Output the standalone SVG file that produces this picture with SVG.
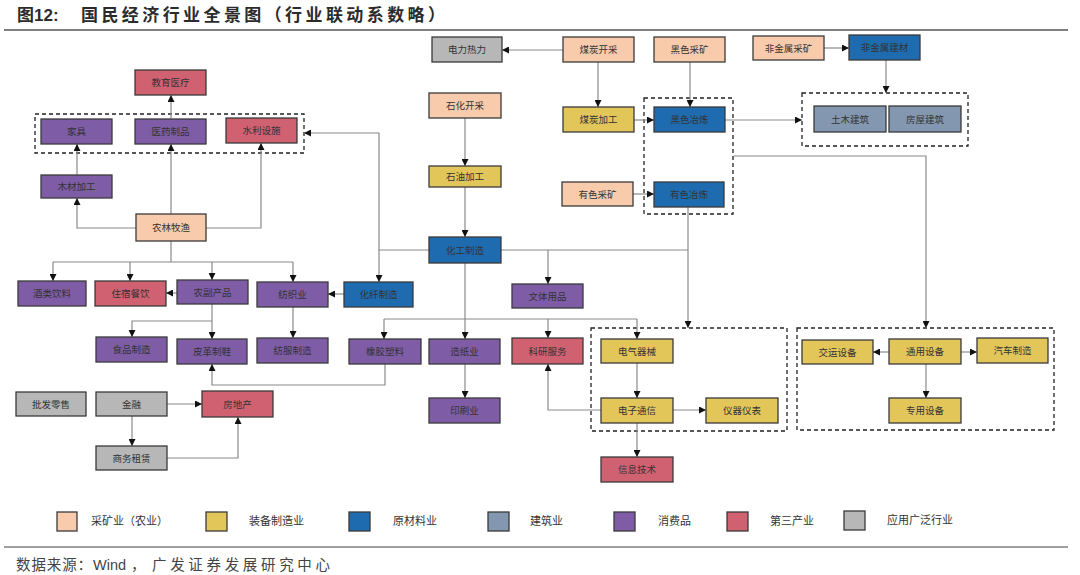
<svg xmlns="http://www.w3.org/2000/svg" width="1080" height="575" viewBox="0 0 1080 575">
<style>
.n{stroke:#3a3a3a;stroke-width:1.3}
.m{fill:#F8CBAD}.e{fill:#E3C65A}.r{fill:#1F6BAF}.c{fill:#8497B0}.p{fill:#7E5CA6}.t{fill:#D06171}.g{fill:#B7B7B7}
.l{font-family:"Liberation Sans","Noto Sans CJK SC",sans-serif;font-size:9.5px;fill:#333;text-anchor:middle;dominant-baseline:central}
.k{fill:none;stroke:#8a8a8a;stroke-width:1.2}
.a{marker-end:url(#ah)}
.d{fill:none;stroke:#222;stroke-width:1.3;stroke-dasharray:4 3}
.lg{font-family:"Liberation Sans","Noto Sans CJK SC",sans-serif;font-size:11px;fill:#333;dominant-baseline:central}
</style>
<defs>
<marker id="ah" viewBox="0 0 10 10" refX="10" refY="5" markerWidth="7" markerHeight="7" markerUnits="userSpaceOnUse" orient="auto">
<path d="M0,0L10,5L0,10z" fill="#111"/>
</marker>
</defs>
<rect width="1080" height="575" fill="#fff"/>
<text x="17" y="21" font-family="Liberation Sans,'Noto Sans CJK SC',sans-serif" font-size="17" font-weight="bold" fill="#2b2b2b">图12:</text>
<text x="81" y="21" font-family="'Noto Sans CJK SC',sans-serif" font-size="17" font-weight="bold" fill="#2b2b2b" textLength="364" lengthAdjust="spacing">国民经济行业全景图（行业联动系数略）</text>
<line x1="4" y1="30" x2="1068" y2="30" stroke="#7f7f7f" stroke-width="2"/>

<g id="groups">
<rect class="d" x="35" y="114" width="269" height="39"/>
<rect class="d" x="644" y="98" width="89" height="116" stroke="#5a7896"/>
<rect class="d" x="802" y="93" width="166" height="53"/>
<rect class="d" x="591" y="328" width="196" height="103"/>
<rect class="d" x="797" y="328" width="257" height="102"/>
</g>

<g id="connectors">
<path class="k a" d="M563,50H502"/>
<path class="k a" d="M598,62V107"/>
<path class="k a" d="M690,62V107"/>
<path class="k a" d="M824,48H849"/>
<path class="k a" d="M886,60V93"/>
<path class="k a" d="M634,120H654"/>
<path class="k a" d="M725,120H802"/>
<path class="k a" d="M633,194H654"/>
<path class="k a" d="M688,207V328"/>
<path class="k a" d="M733,156H926V328"/>
<path class="k a" d="M465,118V166"/>
<path class="k a" d="M465,187V237"/>
<path class="k a" d="M429,250H379V133H304"/>
<path class="k a" d="M379,250V282"/>
<path class="k a" d="M501,250H548V284"/>
<path class="k" d="M548,250H688"/>
<path class="k a" d="M465,263V339"/>
<path class="k a" d="M384,319V339"/>
<path class="k" d="M384,319H637"/>
<path class="k a" d="M548,319V338"/>
<path class="k a" d="M637,319V339"/>
<path class="k a" d="M465,364V398"/>
<path class="k a" d="M385,364V385H212V364"/>
<path class="k a" d="M601,410H548V364"/>
<path class="k a" d="M637,363V398"/>
<path class="k a" d="M673,410H706"/>
<path class="k a" d="M637,423V457"/>
<path class="k a" d="M889,352H873"/>
<path class="k a" d="M961,352H977"/>
<path class="k a" d="M926,364V398"/>
<path class="k a" d="M136,228H77V198"/>
<path class="k a" d="M77,175V144"/>
<path class="k a" d="M171,214V144"/>
<path class="k a" d="M206,228H261V143"/>
<path class="k a" d="M171,119V95"/>
<path class="k" d="M171,241V262M53,262H293"/>
<path class="k a" d="M53,262V281"/>
<path class="k a" d="M130,262V281"/>
<path class="k a" d="M212,262V280"/>
<path class="k a" d="M293,262V282"/>
<path class="k a" d="M177,293H166"/>
<path class="k a" d="M344,294H328"/>
<path class="k a" d="M212,304V339"/>
<path class="k a" d="M212,321H132V337"/>
<path class="k a" d="M293,307V338"/>
<path class="k a" d="M167,404H202"/>
<path class="k a" d="M132,416V446"/>
<path class="k a" d="M167,458H238V417"/>
</g>

<g id="n_dlrl"><rect class="n g" x="432" y="37" width="70" height="25"/><text class="l" x="467" y="49.5">电力热力</text></g>
<g id="n_mtkc"><rect class="n m" x="563" y="37" width="71" height="25"/><text class="l" x="598.5" y="49.5">煤炭开采</text></g>
<g id="n_hsck"><rect class="n m" x="654" y="37" width="71" height="25"/><text class="l" x="689.5" y="49.5">黑色采矿</text></g>
<g id="n_fjsck"><rect class="n m" x="753" y="36" width="71" height="24"/><text class="l" x="788.5" y="48">非金属采矿</text></g>
<g id="n_fjsjc"><rect class="n r" x="849" y="35" width="71" height="25"/><text class="l" x="884.5" y="47.5">非金属建材</text></g>
<g id="n_jyyl"><rect class="n t" x="135" y="70" width="71" height="25"/><text class="l" x="170.5" y="82.5">教育医疗</text></g>
<g id="n_shkc"><rect class="n m" x="429" y="93" width="72" height="25"/><text class="l" x="465" y="105.5">石化开采</text></g>
<g id="n_jj"><rect class="n p" x="41" y="119" width="71" height="25"/><text class="l" x="76.5" y="131.5">家具</text></g>
<g id="n_yyzp"><rect class="n p" x="135" y="119" width="71" height="25"/><text class="l" x="170.5" y="131.5">医药制品</text></g>
<g id="n_slss"><rect class="n t" x="226" y="118" width="71" height="25"/><text class="l" x="261.5" y="130.5">水利设施</text></g>
<g id="n_mtjg"><rect class="n e" x="563" y="107" width="71" height="25"/><text class="l" x="598.5" y="119.5">煤炭加工</text></g>
<g id="n_hsyl"><rect class="n r" x="654" y="107" width="71" height="25"/><text class="l" x="689.5" y="119.5">黑色冶炼</text></g>
<g id="n_tmjz"><rect class="n c" x="814" y="106" width="72" height="26"/><text class="l" x="850" y="119">土木建筑</text></g>
<g id="n_fwjz"><rect class="n c" x="889" y="106" width="72" height="26"/><text class="l" x="925" y="119">房屋建筑</text></g>
<g id="n_syjg"><rect class="n e" x="429" y="166" width="72" height="21"/><text class="l" x="465" y="176.5">石油加工</text></g>
<g id="n_mcjg"><rect class="n p" x="41" y="175" width="71" height="23"/><text class="l" x="76.5" y="186.5">木材加工</text></g>
<g id="n_ysck"><rect class="n m" x="562" y="182" width="71" height="24"/><text class="l" x="597.5" y="194">有色采矿</text></g>
<g id="n_ysyl"><rect class="n r" x="654" y="182" width="70" height="25"/><text class="l" x="689" y="194.5">有色冶炼</text></g>
<g id="n_nlmy"><rect class="n m" x="136" y="214" width="70" height="27"/><text class="l" x="171" y="227.5">农林牧渔</text></g>
<g id="n_hgzz"><rect class="n r" x="429" y="237" width="72" height="26"/><text class="l" x="465" y="250">化工制造</text></g>
<g id="n_jlyl"><rect class="n p" x="18" y="281" width="68" height="25"/><text class="l" x="52" y="293.5">酒类饮料</text></g>
<g id="n_zscy"><rect class="n t" x="95" y="281" width="71" height="25"/><text class="l" x="130.5" y="293.5">住宿餐饮</text></g>
<g id="n_nfcp"><rect class="n p" x="177" y="280" width="71" height="24"/><text class="l" x="212.5" y="292">农副产品</text></g>
<g id="n_fzy"><rect class="n p" x="257" y="282" width="71" height="25"/><text class="l" x="292.5" y="294.5">纺织业</text></g>
<g id="n_hxzz"><rect class="n r" x="344" y="282" width="69" height="25"/><text class="l" x="378.5" y="294.5">化纤制造</text></g>
<g id="n_wtyp"><rect class="n p" x="512" y="284" width="71" height="24"/><text class="l" x="547.5" y="296">文体用品</text></g>
<g id="n_spzz"><rect class="n p" x="96" y="337" width="71" height="25"/><text class="l" x="131.5" y="349.5">食品制造</text></g>
<g id="n_pgzx"><rect class="n p" x="177" y="339" width="70" height="25" stroke="#2a3f8a"/><text class="l" x="212" y="351.5">皮革制鞋</text></g>
<g id="n_ffzz"><rect class="n p" x="257" y="338" width="71" height="25"/><text class="l" x="292.5" y="350.5">纺服制造</text></g>
<g id="n_xjsl"><rect class="n p" x="349" y="339" width="72" height="25"/><text class="l" x="385" y="351.5">橡胶塑料</text></g>
<g id="n_zzy"><rect class="n p" x="429" y="339" width="71" height="25"/><text class="l" x="464.5" y="351.5">造纸业</text></g>
<g id="n_kyfw"><rect class="n t" x="512" y="338" width="71" height="26"/><text class="l" x="547.5" y="351">科研服务</text></g>
<g id="n_dqqx"><rect class="n e" x="601" y="339" width="72" height="24"/><text class="l" x="637" y="351">电气器械</text></g>
<g id="n_jysb"><rect class="n e" x="802" y="340" width="71" height="24"/><text class="l" x="837.5" y="352">交运设备</text></g>
<g id="n_tysb"><rect class="n e" x="889" y="339" width="72" height="25"/><text class="l" x="925" y="351.5">通用设备</text></g>
<g id="n_qczz"><rect class="n e" x="977" y="338" width="71" height="25"/><text class="l" x="1012.5" y="350.5">汽车制造</text></g>
<g id="n_pfls"><rect class="n g" x="16" y="392" width="70" height="24"/><text class="l" x="51" y="404">批发零售</text></g>
<g id="n_jr"><rect class="n g" x="96" y="392" width="71" height="24"/><text class="l" x="131.5" y="404">金融</text></g>
<g id="n_fdc"><rect class="n t" x="202" y="391" width="71" height="26"/><text class="l" x="237.5" y="404">房地产</text></g>
<g id="n_ysy"><rect class="n p" x="429" y="398" width="71" height="25"/><text class="l" x="464.5" y="410.5">印刷业</text></g>
<g id="n_dztx"><rect class="n e" x="601" y="398" width="72" height="25"/><text class="l" x="637" y="410.5">电子通信</text></g>
<g id="n_yqyb"><rect class="n e" x="706" y="398" width="72" height="25"/><text class="l" x="742" y="410.5">仪器仪表</text></g>
<g id="n_zysb"><rect class="n e" x="889" y="398" width="72" height="25"/><text class="l" x="925" y="410.5">专用设备</text></g>
<g id="n_swzl"><rect class="n g" x="96" y="446" width="71" height="24"/><text class="l" x="131.5" y="458">商务租赁</text></g>
<g id="n_xxjs"><rect class="n t" x="601" y="457" width="72" height="25"/><text class="l" x="637" y="469.5">信息技术</text></g>

<g id="legend">
<rect class="n m" x="57" y="512" width="20" height="19"/><text class="lg" x="91" y="521">采矿业（农业）</text>
<rect class="n e" x="206" y="512" width="21" height="19"/><text class="lg" x="249" y="521">装备制造业</text>
<rect class="n r" x="349" y="512" width="21" height="19"/><text class="lg" x="393" y="521">原材料业</text>
<rect class="n c" x="488" y="512" width="21" height="19"/><text class="lg" x="530" y="521">建筑业</text>
<rect class="n p" x="614" y="512" width="21" height="19"/><text class="lg" x="658" y="521">消费品</text>
<rect class="n t" x="727" y="512" width="21" height="19"/><text class="lg" x="770" y="521">第三产业</text>
<rect class="n g" x="844" y="511" width="21" height="19"/><text class="lg" x="887" y="520">应用广泛行业</text>
</g>
<line x1="4" y1="547" x2="1068" y2="547" stroke="#7f7f7f" stroke-width="1.5"/>
<text y="570" font-family="Liberation Sans,'Noto Sans CJK SC',sans-serif" font-size="14.5" fill="#444"><tspan x="16" textLength="76" lengthAdjust="spacing">数据来源：</tspan><tspan x="93">Wind</tspan><tspan x="131">，</tspan><tspan x="152" textLength="178" lengthAdjust="spacing">广发证券发展研究中心</tspan></text>
</svg>
